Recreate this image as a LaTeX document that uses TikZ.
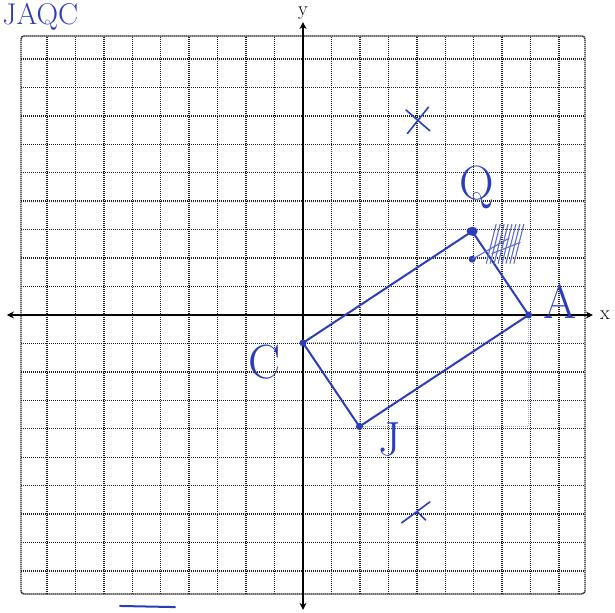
\documentclass[tikz,border=0pt]{standalone}
\usepackage{tikz}
\usetikzlibrary{arrows.meta,positioning}
\definecolor{penBlue}{HTML}{2B3DB8}
\definecolor{gridGray}{HTML}{1E1E1E}
\definecolor{traceBlue}{HTML}{9AA6DC}

\begin{document}
\begin{tikzpicture}[
  x=28.2pt, y=27.9pt,
  gridline/.style={draw=gridGray, line width=1.4pt, dash pattern=on 1.4pt off 0.6pt},
  axisline/.style={draw=black, line width=1.4pt, {Stealth[length=7pt,width=7pt]}-{Stealth[length=7pt,width=7pt]}},
  side/.style={draw=penBlue, line width=2pt, line cap=round},
  trace/.style={draw=traceBlue, line width=1pt, densely dotted},
  cross/.style={draw=penBlue, line width=1.6pt, line cap=round},
  hatch/.style={draw=penBlue!75, line width=1.1pt, line cap=round},
  hand/.style={text=penBlue, font=\fontsize{48}{48}\selectfont},
  axislabel/.style={font=\fontsize{20}{20}\selectfont, inner sep=1pt}
]
\useasboundingbox (-10.745,-10.68) rectangle (11.064,11.29);
\clip (-10.745,-10.68) rectangle (11.064,11.29);

% grid paper
\draw[gridline] (-10,-10) grid (10,10);
\draw[gridline, rounded corners=3pt] (-10,-10) rectangle (10,10);

% axes
\coordinate (xmin) at (-10.5,0);
\coordinate (xmax) at (10.28,0);
\coordinate (ymin) at (0,-10.57);
\coordinate (ymax) at (0,10.5);
\draw[axisline] (xmin) -- (xmax);
\draw[axisline] (ymin) -- (ymax);
\node[axislabel, right=6pt of xmax] (xlab) {x};
\node[axislabel, above=1pt of ymax] (ylab) {y};

% rectangle JAQC
\coordinate (J) at (2,-4);
\coordinate (A) at (8,0);
\coordinate (Q) at (6,3);
\coordinate (C) at (0,-1);
\coordinate (P) at (6,2);

% faint helper lines
\draw[trace] (C) -- (8,-1);
\draw[trace] (2,0) -- (J);
\draw[trace] (A) -- (8,-4);
\draw[trace] (J) -- (8,-4);

\draw[side] (J) -- (A) -- (Q) -- (C) -- cycle;
\fill[penBlue] (Q) ellipse (5.5pt and 4.5pt);
\foreach \p in {J,A,C,P}
  \fill[penBlue] (\p) circle (3.5pt);

% scribbled-out point
\foreach \i in {0,...,7}
  \draw[hatch] (6.5+0.14*\i,1.85) -- (6.85+0.14*\i,3.25);
\draw[hatch] (P) -- (7.3,2.75);
\draw[hatch] (6.7,2.2) -- (7.7,2.6);

% crosses
\coordinate (X1) at (4,7);
\coordinate (X2) at (4,-7);
\draw[cross] (X1) ++(-0.3,-0.5) -- ++(0.75,0.95);
\draw[cross] (X1) ++(-0.35,0.35) -- ++(0.85,-0.75);
\draw[cross] (X2) ++(-0.5,-0.45) -- ++(1,0.75);
\draw[cross] (X2) ++(0.05,-0.05) -- ++(0.3,-0.3);

% labels
\node[hand] (labQ) at (6.17,4.59) {Q};
\node[hand] (labA) at (9.11,0.47) {A};
\node[hand] (labC) at (-1.35,-1.68) {C};
\node[hand] (labJ) at (3.08,-4.48) {J};
\node[hand, anchor=north west, inner sep=1pt, font=\fontsize{30}{30}\selectfont] (title) at (-10.7,11.2) {JAQC};

% stroke at the bottom
\draw[side] (-6.49,-10.43) -- (-4.54,-10.47);
\end{tikzpicture}
\end{document}
